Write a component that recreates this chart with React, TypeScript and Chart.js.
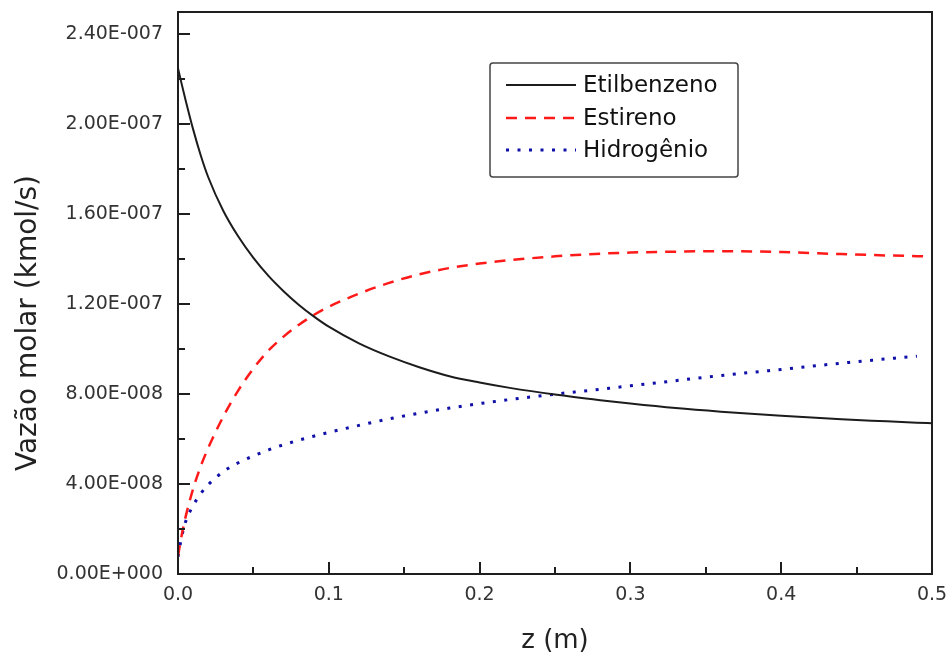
import { useEffect, useRef } from 'react';
import { Chart, registerables } from 'chart.js';

Chart.register(...registerables);

const zValues = [0, 0.0025, 0.005, 0.01, 0.015, 0.02, 0.03, 0.04, 0.05, 0.06, 0.07, 0.08, 0.09, 0.1, 0.12, 0.14, 0.16, 0.18, 0.2, 0.22, 0.25, 0.28, 0.3, 0.33, 0.36, 0.4, 0.44, 0.47, 0.49, 0.5];
const etilbenzeno = [22.5e-8, 21.78e-8, 21.09e-8, 19.79e-8, 18.64e-8, 17.66e-8, 16.16e-8, 15.01e-8, 14.06e-8, 13.26e-8, 12.58e-8, 11.98e-8, 11.46e-8, 11.0e-8, 10.26e-8, 9.68e-8, 9.2e-8, 8.8e-8, 8.52e-8, 8.28e-8, 7.98e-8, 7.73e-8, 7.58e-8, 7.38e-8, 7.22e-8, 7.04e-8, 6.88e-8, 6.79e-8, 6.73e-8, 6.71e-8];
const estireno = [0.8e-8, 1.75e-8, 2.53e-8, 3.78e-8, 4.78e-8, 5.6e-8, 7.0e-8, 8.17e-8, 9.14e-8, 9.94e-8, 10.56e-8, 11.08e-8, 11.52e-8, 11.89e-8, 12.47e-8, 12.95e-8, 13.33e-8, 13.61e-8, 13.81e-8, 13.96e-8, 14.13e-8, 14.25e-8, 14.3e-8, 14.34e-8, 14.36e-8, 14.32e-8, 14.23e-8, 14.17e-8, 14.14e-8, 14.13e-8];
const hidrogenio = [0.77e-8, 1.67e-8, 2.32e-8, 3.04e-8, 3.57e-8, 3.97e-8, 4.55e-8, 4.95e-8, 5.25e-8, 5.52e-8, 5.75e-8, 5.95e-8, 6.13e-8, 6.3e-8, 6.61e-8, 6.9e-8, 7.15e-8, 7.38e-8, 7.58e-8, 7.76e-8, 8.0e-8, 8.22e-8, 8.37e-8, 8.6e-8, 8.83e-8, 9.1e-8, 9.38e-8, 9.57e-8, 9.69e-8, null];

const seriesLabels = ['Etilbenzeno', 'Estireno', 'Hidrogênio'];

const xTickValues = [0, 0.1, 0.2, 0.3, 0.4, 0.5];
const xTickLabels = ['0.0', '0.1', '0.2', '0.3', '0.4', '0.5'];
const xMinorTickValues = [0.05, 0.15, 0.25, 0.35, 0.45];
const yTickValues = [0, 4e-8, 8e-8, 1.2e-7, 1.6e-7, 2.0e-7, 2.4e-7];
const yTickLabels = ['0.00E+000', '4.00E-008', '8.00E-008', '1.20E-007', '1.60E-007', '2.00E-007', '2.40E-007'];
const yMinorTickValues = [2e-8, 6e-8, 1.0e-7, 1.4e-7, 1.8e-7, 2.2e-7];

const xTitle = 'z (m)';
const yTitle = 'Vazão molar (kmol/s)';

const FONT = 'DejaVu Sans';

const toPoints = (ys: (number | null)[]) => zValues.map((z, i) => ({ x: z, y: ys[i] }));

const decorPlugin = {
  id: 'decor',
  afterDatasetsDraw(chart: any) {
    const { ctx, chartArea, scales } = chart;
    const { left, right, top, bottom } = chartArea;
    const x = scales.x;
    const y = scales.y;
    ctx.save();
    ctx.strokeStyle = '#1e1e1e';
    ctx.lineWidth = 2;
    ctx.strokeRect(left, top, right - left, bottom - top);
    ctx.beginPath();
    yTickValues.forEach((v) => {
      const py = Math.round(y.getPixelForValue(v));
      ctx.moveTo(left, py);
      ctx.lineTo(left + 12, py);
    });
    yMinorTickValues.forEach((v) => {
      const py = Math.round(y.getPixelForValue(v));
      ctx.moveTo(left, py);
      ctx.lineTo(left + 7, py);
    });
    xTickValues.forEach((v) => {
      const px = Math.round(x.getPixelForValue(v));
      ctx.moveTo(px, bottom);
      ctx.lineTo(px, bottom - 12);
    });
    xMinorTickValues.forEach((v) => {
      const px = Math.round(x.getPixelForValue(v));
      ctx.moveTo(px, bottom);
      ctx.lineTo(px, bottom - 7);
    });
    ctx.stroke();

    // legend
    const bx = 490, by = 63, bw = 248, bh = 114;
    ctx.fillStyle = '#ffffff';
    ctx.strokeStyle = '#444';
    ctx.lineWidth = 1.5;
    ctx.beginPath();
    (ctx as any).roundRect(bx, by, bw, bh, 3);
    ctx.fill();
    ctx.stroke();
    const rows = [85, 118, 150];
    chart.data.datasets.forEach((ds: any, i: number) => {
      const ry = rows[i];
      ctx.save();
      ctx.strokeStyle = ds.borderColor;
      ctx.lineWidth = ds.borderWidth;
      ctx.setLineDash(ds.borderDash || []);
      ctx.beginPath();
      ctx.moveTo(506, ry);
      ctx.lineTo(576, ry);
      ctx.stroke();
      ctx.restore();
      ctx.fillStyle = '#111';
      ctx.font = `23px "${FONT}"`;
      ctx.textAlign = 'left';
      ctx.textBaseline = 'middle';
      ctx.fillText(ds.label, 583, ry + 1);
    });
    ctx.restore();
  },
  afterDraw(chart: any) {
    const { ctx, chartArea } = chart;
    ctx.save();
    ctx.fillStyle = '#222';
    ctx.textAlign = 'center';
    ctx.textBaseline = 'middle';
    ctx.font = `26px "${FONT}"`;
    ctx.fillText(xTitle, (chartArea.left + chartArea.right) / 2, 641);
    ctx.translate(29, 323);
    ctx.rotate(-Math.PI / 2);
    ctx.font = `28px "${FONT}"`;
    ctx.fillText(yTitle, 0, 0);
    ctx.restore();
  },
};

export default function App() {
  const canvasRef = useRef<HTMLCanvasElement | null>(null);

  useEffect(() => {
    const canvas = canvasRef.current;
    if (!canvas) return;
    const chart = new Chart(canvas, {
      type: 'line',
      data: {
        datasets: [
          {
            label: seriesLabels[0],
            data: toPoints(etilbenzeno),
            borderColor: '#1c1c1c',
            borderWidth: 2,
            borderDash: [],
            pointRadius: 0,
            cubicInterpolationMode: 'monotone',
            fill: false,
          },
          {
            label: seriesLabels[1],
            data: toPoints(estireno),
            borderColor: '#ff1a1a',
            borderWidth: 2.5,
            borderDash: [11, 8],
            pointRadius: 0,
            cubicInterpolationMode: 'monotone',
            fill: false,
          },
          {
            label: seriesLabels[2],
            data: toPoints(hidrogenio),
            borderColor: '#1010a8',
            borderWidth: 3,
            borderDash: [3, 8.5],
            pointRadius: 0,
            cubicInterpolationMode: 'monotone',
            fill: false,
          },
        ],
      } as any,
      options: {
        animation: false,
        responsive: false,
        maintainAspectRatio: false,
        layout: { padding: { top: 12, right: 17, left: 0, bottom: 0 } },
        plugins: {
          legend: { display: false },
          tooltip: { enabled: false },
          title: { display: false },
        },
        scales: {
          x: {
            type: 'linear',
            min: 0,
            max: 0.5,
            afterBuildTicks: (s: any) => {
              s.ticks = xTickValues.map((v) => ({ value: v }));
            },
            afterFit: (s: any) => {
              s.height = 81;
              s.paddingLeft = 0;
              s.paddingRight = 0;
              s.paddingTop = 0;
              s.paddingBottom = 0;
            },
            ticks: {
              autoSkip: false,
              maxRotation: 0,
              padding: 10,
              color: '#333',
              font: { family: FONT, size: 19 },
              callback: (_v: any, i: number) => xTickLabels[i],
            },
            grid: { display: false, drawTicks: false },
            border: { display: false },
          },
          y: {
            type: 'linear',
            min: 0,
            max: 2.5e-7,
            afterBuildTicks: (s: any) => {
              s.ticks = yTickValues.map((v) => ({ value: v }));
            },
            afterFit: (s: any) => {
              s.width = 178;
              s.paddingLeft = 0;
              s.paddingRight = 0;
              s.paddingTop = 0;
              s.paddingBottom = 0;
            },
            ticks: {
              autoSkip: false,
              padding: 15,
              color: '#333',
              font: { family: FONT, size: 19 },
              callback: (_v: any, i: number) => yTickLabels[i],
            },
            grid: { display: false, drawTicks: false },
            border: { display: false },
          },
        },
      } as any,
      plugins: [decorPlugin],
    });
    return () => chart.destroy();
  }, []);

  return (
    <div style={{ position: 'fixed', left: 0, top: 0, width: 949, height: 655, background: '#fff' }}>
      <canvas ref={canvasRef} width={949} height={655} />
    </div>
  );
}
